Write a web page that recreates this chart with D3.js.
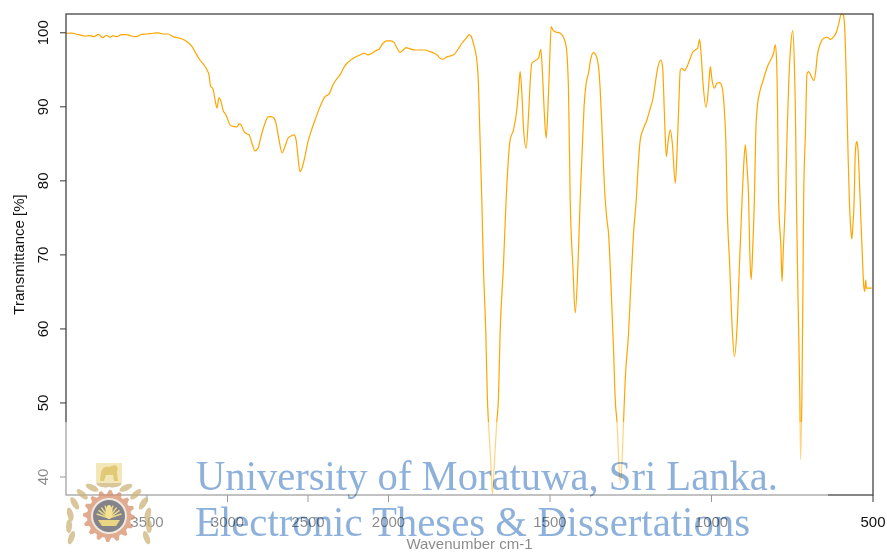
<!DOCTYPE html>
<html>
<head>
<meta charset="utf-8">
<script src="https://cdn.jsdelivr.net/npm/d3@7"></script>
<style>
  body { margin: 0; background: #fff; }
  svg { display: block; }
  text { font-family: "Liberation Sans", Arial, sans-serif; }
</style>
</head>
<body>
<svg id="chart" width="887" height="552"></svg>
<script>
// IR spectrum: wavenumber (cm-1) and transmittance (%)
const wavenumber = [
  4000, 3964.6, 3933.5, 3913, 3882, 3851, 3826, 3799, 3773, 3747.5, 3727, 3706, 3686, 3655, 3624, 3593,
  3563, 3530, 3499, 3458, 3427, 3396, 3365, 3335, 3292, 3248, 3217, 3199, 3168, 3143, 3124, 3112,
  3102, 3087, 3074, 3062, 3050, 3037, 3025, 3006, 2981, 2957, 2938, 2925, 2913, 2894, 2876, 2863,
  2845, 2826, 2807, 2789, 2764, 2745, 2727, 2708, 2696, 2677, 2658, 2640, 2621, 2602, 2584, 2571,
  2559, 2547, 2534, 2516, 2497, 2478, 2453, 2422, 2391, 2366, 2342, 2323, 2298, 2273, 2255, 2236,
  2205, 2174, 2149, 2124, 2100, 2075, 2056, 2031, 2006, 1991, 1981, 1972, 1963, 1953, 1944, 1932,
  1916, 1901, 1885, 1870, 1857, 1848, 1839, 1829, 1820, 1808, 1795, 1783, 1771, 1758, 1749, 1743,
  1737, 1731, 1724, 1720, 1715, 1709.6, 1704.6, 1697.2, 1692.2, 1689.1, 1681.7, 1676.8, 1670.6, 1663.1, 1658.2, 1652.9,
  1642.7, 1634.3, 1621.9, 1611.7, 1601.2, 1594, 1590.9, 1585.6, 1580.7, 1572.3, 1565.2, 1560, 1554.6, 1544.4, 1534.2, 1526.8,
  1521.8, 1516.5, 1510.3, 1505.1, 1500, 1494.8, 1489.6, 1482.4, 1466.9, 1456.7, 1448.3, 1441.2, 1435.9, 1427.6, 1420.4, 1412.1,
  1405, 1396.6, 1393, 1386.4, 1379.3, 1371.9, 1363.7, 1355.4, 1348.2, 1343, 1337.7, 1332.7, 1327.5, 1322.2, 1317.3, 1309.9,
  1301.7, 1296.5, 1291.2, 1280.9, 1275.7, 1270.7, 1265.5, 1255.2, 1247.8, 1239.8, 1231.4, 1224.3, 1219, 1208.8, 1198.2, 1188,
  1179.6, 1172.5, 1165.3, 1154.9, 1149.9, 1144.6, 1138.4, 1132.2, 1126, 1119.7, 1110.5, 1105.3, 1100.3, 1095, 1089.8, 1082.6,
  1074.3, 1066.2, 1055.7, 1048.5, 1041.4, 1035.2, 1030.8, 1024.7, 1015.4, 1009.2, 1005.1, 1002.1, 996.8, 989.7, 981.4, 973.2,
  965.8, 958.7, 953.4, 950.4, 942, 934.6, 927.6, 919.2, 912.1, 903.8, 899, 893.8, 888.6, 883.4, 880.1, 875.9,
  871, 865.7, 861.4, 856.7, 847.5, 838.2, 825.8, 814.3, 806.3, 801, 797, 793.9, 790.8, 783.2, 780.1, 776.1,
  769.6, 764.4, 759.4, 754.1, 747, 741.7, 737.7, 735.5, 730.5, 724.9, 722.7, 718.7, 715.6, 713.2, 707.7, 702.6,
  697.4, 690, 681.7, 676.5, 671.3, 661, 650.7, 640.4, 630, 619.7, 611.3, 604.2, 596.7, 590.5, 586.2, 582.2,
  576, 571.7, 566.3, 563.9, 560.8, 556.8, 553.5, 550.5, 548.5, 545.5, 543.6, 538.3, 532.2, 527, 524, 520.9,
  518.8, 509.5, 502.4
];
const transmittance = [
  99.87, 99.90, 99.73, 99.64, 99.50, 99.54, 99.41, 99.73, 99.27, 99.60, 99.33, 99.54, 99.41, 99.68, 99.68, 99.50,
  99.41, 99.73, 99.77, 99.87, 99.91, 99.77, 99.77, 99.41, 99.19, 98.73, 98.06, 97.38, 96.26, 95.59, 94.91, 94.24,
  92.75, 92.35, 90.86, 89.78, 91.13, 90.63, 89.51, 88.84, 87.49, 87.26, 87.22, 87.62, 87.49, 86.59, 86.28, 86.14,
  85.02, 83.98, 84.35, 85.91, 87.72, 88.57, 88.61, 88.39, 87.72, 85.47, 83.71, 84.56, 85.69, 86.00, 86.14, 85.47,
  83.21, 81.17, 81.65, 83.21, 85.24, 86.59, 88.16, 89.96, 91.31, 91.67, 92.89, 93.56, 94.24, 95.28, 95.82, 96.17,
  96.63, 96.94, 97.17, 96.94, 97.17, 97.52, 97.71, 98.52, 98.83, 98.83, 98.60, 97.84, 97.30, 97.61, 97.92, 97.75,
  97.61, 97.61, 97.61, 97.38, 97.17, 96.94, 96.49, 96.36, 96.63, 96.80, 97.03, 97.71, 98.52, 99.19, 99.64, 99.50,
  98.73, 97.71, 95.82, 93.12, 85.47, 77.37, 68.37, 59.40, 50.40, 47.45, 41.90, 37.56, 41.90, 47.45, 50.40, 59.40,
  68.37, 77.37, 85.47, 86.80, 89.51, 93.12, 94.68, 91.77, 87.26, 84.35, 88.61, 93.12, 95.82, 96.17, 96.49, 97.71,
  94.47, 89.51, 85.69, 89.51, 95.36, 100.76, 100.31, 100.08, 99.87, 99.33, 98.06, 92.21, 77.37, 68.37, 62.08, 68.37,
  77.37, 86.37, 89.96, 93.12, 94.47, 96.49, 97.25, 96.80, 95.36, 92.21, 87.26, 81.86, 77.37, 74.67, 72.87, 66.13,
  57.13, 50.40, 47.45, 39.14, 41.84, 47.45, 53.10, 59.38, 66.13, 72.87, 77.37, 82.77, 85.47, 87.04, 88.16, 89.74,
  91.09, 93.12, 95.14, 96.26, 95.36, 89.51, 83.21, 85.47, 86.82, 85.02, 79.62, 83.67, 89.51, 94.91, 95.14, 94.82,
  95.36, 96.26, 97.38, 97.61, 97.84, 99.05, 97.17, 93.12, 89.87, 91.77, 94.01, 95.36, 93.56, 92.44, 93.12, 93.20,
  92.58, 89.51, 84.12, 77.37, 68.37, 60.27, 56.22, 60.27, 68.37, 77.37, 81.86, 84.79, 81.86, 77.37, 70.62, 66.57,
  70.62, 77.37, 86.37, 89.92, 92.21, 93.56, 95.32, 96.36, 97.17, 98.29, 96.26, 89.51, 77.37, 70.62, 66.34, 70.62,
  77.37, 86.37, 93.12, 97.61, 100.22, 95.36, 86.37, 77.37, 63.87, 50.40, 42.28, 50.40, 63.87, 77.37, 86.37, 94.47,
  94.68, 94.10, 93.47, 94.47, 96.71, 98.52, 99.19, 99.33, 99.05, 99.41, 100.08, 101.21, 102.47, 102.33, 100.76, 95.36,
  84.12, 77.37, 72.90, 72.06, 73.77, 77.37, 83.50, 85.00, 85.24, 84.50, 83.21, 77.37, 70.62, 65.67, 65.00, 66.57,
  65.45, 65.45, 65.45
];

const xTickValues = [3500, 3000, 2500, 2000, 1500, 1000, 500];
const yTickValues = [40, 50, 60, 70, 80, 90, 100];
const xTitle = "Wavenumber cm-1";
const yTitle = "Transmittance [%]";
const watermarkLines = ["University of Moratuwa, Sri Lanka.", "Electronic Theses & Dissertations"];

const svg = d3.select("#chart");
const plot = { left: 66, right: 873, top: 14, bottom: 495 };

// The wavenumber axis is split: 4000-2000 is drawn at half the scale of 2000-500
const x = d3.scaleLinear()
  .domain([4000, 2000, 500])
  .range([plot.left, 388, plot.right - 0.5]);
const y = d3.scaleLinear()
  .domain([37.5, 102.47])
  .range([plot.bottom, plot.top]);

const points = wavenumber.map((w, i) => [w, transmittance[i]]);

// Spectrum line
const clip = svg.append("clipPath").attr("id", "plotClip")
  .append("rect")
  .attr("x", plot.left).attr("y", plot.top - 1)
  .attr("width", plot.right - plot.left).attr("height", plot.bottom - plot.top + 1);

svg.append("path")
  .datum(points)
  .attr("clip-path", "url(#plotClip)")
  .attr("fill", "none")
  .attr("stroke", "#ffa500")
  .attr("stroke-width", 1.2)
  .attr("stroke-linejoin", "round")
  .attr("d", d3.line()
    .x(d => x(d[0]))
    .y(d => y(d[1]))
    .curve(d3.curveMonotoneX));

// Axes
const axisColor = "#333";
const gx = svg.append("g")
  .attr("transform", `translate(0,${plot.bottom})`)
  .call(d3.axisBottom(x).tickValues(xTickValues).tickFormat(d3.format("d")).tickSize(7).tickPadding(14));
gx.select(".domain").remove();
gx.selectAll(".tick line").attr("stroke", axisColor);
gx.selectAll(".tick text")
  .attr("fill", "#111")
  .style("font-size", "15px")
  .style("font-family", "'Liberation Sans', Arial, sans-serif");

const gy = svg.append("g")
  .attr("transform", `translate(${plot.left},0)`)
  .call(d3.axisLeft(y).tickValues(yTickValues).tickSize(6));
gy.select(".domain").remove();
gy.selectAll(".tick line").attr("stroke", axisColor);
gy.selectAll(".tick text")
  .attr("fill", "#111")
  .attr("transform", "rotate(-90)")
  .attr("x", 0)
  .attr("y", -18)
  .attr("dy", 0)
  .attr("text-anchor", "middle")
  .style("font-size", "15px")
  .style("font-family", "'Liberation Sans', Arial, sans-serif");

// Frame
svg.append("rect")
  .attr("x", plot.left).attr("y", plot.top)
  .attr("width", plot.right - plot.left).attr("height", plot.bottom - plot.top)
  .attr("fill", "none")
  .attr("stroke", "#444")
  .attr("stroke-width", 1.3);

// Titles
svg.append("text")
  .attr("x", (plot.left + plot.right) / 2)
  .attr("y", 549)
  .attr("text-anchor", "middle")
  .attr("fill", "#111")
  .style("font-size", "15px")
  .text(xTitle);

svg.append("text")
  .attr("transform", `translate(24,${(plot.top + plot.bottom) / 2}) rotate(-90)`)
  .attr("text-anchor", "middle")
  .attr("fill", "#111")
  .style("font-size", "15px")
  .text(yTitle);

// Repository watermark: faded band, crest and two lines of text
const wm = svg.append("g").attr("class", "watermark");
wm.append("rect")
  .attr("x", 0).attr("y", 422)
  .attr("width", 828).attr("height", 130)
  .attr("fill", "#fff")
  .attr("opacity", 0.5);

const crest = wm.append("g").attr("opacity", 0.75);
const cx = 109, cy = 516;
// wheat wreath
[-1, 1].forEach(side => {
  d3.range(0, 7).forEach(i => {
    const a = (200 - i * 17) * Math.PI / 180;
    const r = 40;
    const px = cx + side * Math.cos(a) * r * -1;
    const py = cy + 8 + Math.sin(a) * r * -1;
    crest.append("ellipse")
      .attr("cx", px).attr("cy", py)
      .attr("rx", 3).attr("ry", 7)
      .attr("transform", `rotate(${side * (i * 17 - 20)},${px},${py})`)
      .attr("fill", "#cdb47a");
  });
});
// gear
const teeth = 16, rOut = 26, rIn = 22;
const gearPts = [];
d3.range(teeth * 4).forEach(i => {
  const a = i / (teeth * 4) * 2 * Math.PI;
  const r = (i % 4 === 0 || i % 4 === 1) ? rOut : rIn;
  gearPts.push([cx + r * Math.cos(a), cy + r * Math.sin(a)]);
});
crest.append("path")
  .attr("d", d3.line()(gearPts) + "Z")
  .attr("fill", "#d7906a");
crest.append("circle").attr("cx", cx).attr("cy", cy).attr("r", 18).attr("fill", "#e8e2d8");
crest.append("circle").attr("cx", cx).attr("cy", cy).attr("r", 16).attr("fill", "#5a5a62");
// lamp and flame rays
d3.range(-4, 5).forEach(i => {
  const a = (-90 + i * 18) * Math.PI / 180;
  crest.append("line")
    .attr("x1", cx).attr("y1", cy + 2)
    .attr("x2", cx + 13 * Math.cos(a)).attr("y2", cy + 2 + 13 * Math.sin(a))
    .attr("stroke", "#e9cf62").attr("stroke-width", 1.4);
});
crest.append("ellipse").attr("cx", cx).attr("cy", cy - 4).attr("rx", 3.5).attr("ry", 7).attr("fill", "#f2da6e");
crest.append("path")
  .attr("d", `M${cx - 11},${cy + 4} L${cx + 11},${cy + 4} L${cx + 7},${cy + 10} L${cx - 7},${cy + 10} Z`)
  .attr("fill", "#e3c85a");
// lion banner
crest.append("rect").attr("x", cx - 13).attr("y", 463).attr("width", 26).attr("height", 20).attr("fill", "#efe0a0");
crest.append("path")
  .attr("d", `M${cx - 9},481 L${cx - 8},472 Q${cx - 6},466 ${cx},467 L${cx + 6},465 Q${cx + 10},467 ${cx + 8},472 L${cx + 9},481 L${cx + 5},481 L${cx + 4},475 L${cx - 3},475 L${cx - 5},481 Z`)
  .attr("fill", "#d9b848");

const wmText = wm.append("g")
  .style("font-family", "'Liberation Serif', 'Times New Roman', serif")
  .style("font-size", "42px")
  .style("mix-blend-mode", "multiply")
  .attr("fill", "#8db1da");
wmText.append("text")
  .attr("x", 196).attr("y", 490)
  .attr("textLength", 582).attr("lengthAdjust", "spacingAndGlyphs")
  .style("font-family", "'Liberation Serif', 'Times New Roman', serif")
  .text(watermarkLines[0]);
wmText.append("text")
  .attr("x", 195).attr("y", 536)
  .attr("textLength", 555).attr("lengthAdjust", "spacingAndGlyphs")
  .style("font-family", "'Liberation Serif', 'Times New Roman', serif")
  .text(watermarkLines[1]);
</script>
</body>
</html>
